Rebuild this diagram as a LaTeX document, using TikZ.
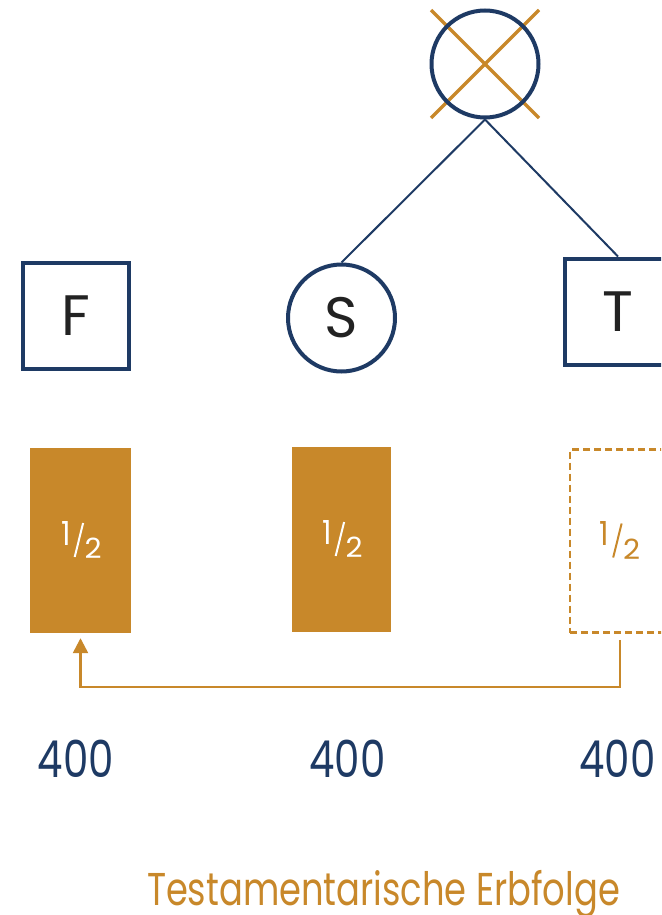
\documentclass[tikz,border=0pt]{standalone}
\usepackage{fontspec}
\setmainfont{Poppins}
\usepackage{graphicx}
\usetikzlibrary{arrows.meta}
\definecolor{navy}{HTML}{1E3A64}
\definecolor{gold}{HTML}{C8882A}
\definecolor{ink}{HTML}{222222}
% squeeze text horizontally to a given width, keeping its height
\newcommand{\narrowto}[2]{\resizebox{#1}{\height}{#2}}

\begin{document}
\begin{tikzpicture}[x=1pt,y=-1pt,
  person/.style={draw=navy,line width=4pt,inner sep=0pt,text=ink,
    font=\fontsize{57}{60}\selectfont},
  male/.style={person,rectangle,minimum size=106pt},
  female/.style={person,circle,minimum size=107pt},
  share/.style={rectangle,minimum width=100pt,minimum height=185pt,inner sep=0pt},
  paid/.style={share,fill=gold},
  lapsed/.style={share,draw=gold,line width=2.5pt,dash pattern=on 7pt off 4pt,
    minimum height=183pt},
  tie/.style={draw=navy,line width=2pt},
  cross/.style={draw=gold,line width=3.5pt},
  amount/.style={text=navy,anchor=base,font=\fontsize{51}{51}\selectfont},
  transfer/.style={draw=gold,line width=2.5pt,-{Triangle[length=15pt,width=15pt]},
    shorten <=6pt,shorten >=5pt},
  digit/.style={inner sep=0pt,font=\fontsize{30}{30}\selectfont},
  % the fraction one half, in a given colour
  pics/half/.style={code={
    \node[digit,text=#1] (-one) at (-14.5,-7.5) {\resizebox{9.5pt}{24pt}{1}};
    \draw[#1,line width=2pt] (-5.8,16.5) -- (2.6,-17.5);
    \node[digit,text=#1] (-two) at (12.6,7.8) {\resizebox{17pt}{20.5pt}{2}};
  }}
]
\clip (0,0) rectangle (661,915);

% deceased: crossed-out circle
\coordinate (dc) at (485,64);
\draw[cross] (431,10) -- (539,118);
\draw[cross] (539,10) -- (431,118);
\node[female] (D) at (dc) {};

% heirs
\node[male]   (F) at (76,316)  {F};
\node[female] (S) at (341.5,318) {S};
\node[male]   (T) at (618,311.5) {T};

\draw[tie] (D.south) -- (S.north);
\draw[tie] (D.south) -- (T.north);

% shares
\node[paid,minimum width=101pt] (Fsh) at (80.5,540.5) {};
\node[paid,minimum width=99pt]  (Ssh) at (341.5,539.5) {};
\node[lapsed] (Tsh) at (620,541) {};
\pic (hF) at (Fsh.center) {half=white};
\pic (hS) at (Ssh.center) {half=white};
\pic (hT) at ([xshift=-1pt]Tsh.center) {half=gold};

% the lapsed share accrues to F
\coordinate (rail) at (0,687);
\draw[transfer] (Tsh.south) -- (Tsh.south |- rail) -| (Fsh.south);

% amounts
\node[amount] (a1) at (76,777)    {\narrowto{76pt}{400}};
\node[amount] (a2) at (347.5,777) {\narrowto{76pt}{400}};
\node[amount] (a3) at (617.5,777) {\narrowto{76pt}{400}};

% caption
\node[anchor=base,text=gold,font=\fontsize{46}{46}\selectfont] (title) at (383.5,905)
  {\narrowto{473pt}{Testamentarische Erbfolge}};
\end{tikzpicture}
\end{document}
